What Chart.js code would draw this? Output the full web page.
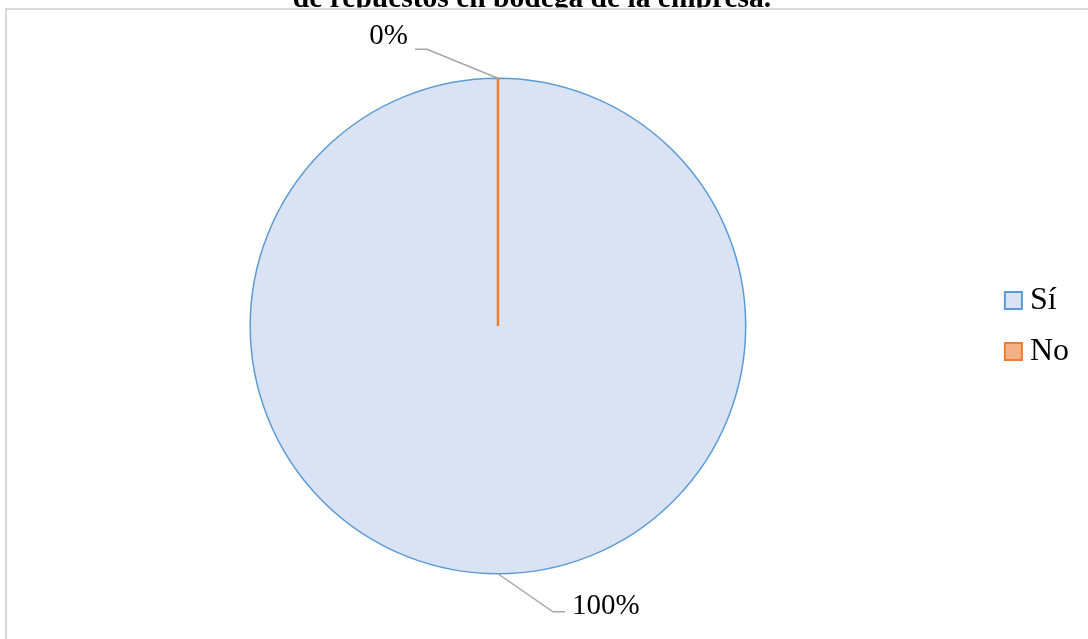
<!DOCTYPE html>
<html>
<head>
<meta charset="utf-8">
<script src="https://cdn.jsdelivr.net/npm/chart.js@4.4.0/dist/chart.umd.min.js"></script>
<style>
    html, body { margin: 0; padding: 0; background: #fff; overflow: hidden; }
    #wrap { position: relative; width: 1088px; height: 639px; }
</style>
</head>
<body>
<div id="wrap"><canvas id="chart-pie"></canvas></div>
<script>
var labels = ['Sí', 'No'];
var values = [100, 0];
var fills = ['#dae3f3', '#f4b183'];
var borders = ['#5b9bd5', '#ed7d31'];
var titleText = 'de repuestos en bodega de la empresa.';

var serif = '"Liberation Serif", "Times New Roman", serif';

// leader line for each percentage label: elbow offset from the slice edge, text side, baseline shift
var leaderStyle = [
    { dx: 55, dy: 38, side: 1, base: 2 },
    { dx: -71, dy: -29, side: -1, base: -5 }
];

// white page, grey frame and the title sitting above it (cut at the frame)
var framePlugin = {
    id: 'frame',
    beforeDraw: function (chart) {
        var ctx = chart.ctx;
        ctx.save();
        ctx.fillStyle = '#fff';
        ctx.fillRect(0, 0, chart.width, chart.height);
        ctx.strokeStyle = '#d9d9d9';
        ctx.lineWidth = 2;
        ctx.beginPath();
        ctx.moveTo(6, chart.height);
        ctx.lineTo(6, 9);
        ctx.lineTo(chart.width, 9);
        ctx.stroke();
        ctx.beginPath();
        ctx.rect(0, 0, chart.width, 7.5);
        ctx.clip();
        ctx.fillStyle = '#000';
        ctx.font = 'bold 29.5px ' + serif;
        ctx.textAlign = 'center';
        ctx.textBaseline = 'alphabetic';
        ctx.fillText(titleText, 532, 6.5);
        ctx.restore();
    }
};

// a 0 slice has no arc, so draw its border as the radius line
var zeroSlicePlugin = {
    id: 'zeroSlice',
    afterDatasetsDraw: function (chart) {
        var ctx = chart.ctx;
        chart.getDatasetMeta(0).data.forEach(function (arc, i) {
            if (values[i] !== 0) return;
            ctx.save();
            ctx.strokeStyle = borders[i];
            ctx.lineWidth = 2.5;
            ctx.beginPath();
            ctx.moveTo(arc.x, arc.y);
            ctx.lineTo(arc.x + Math.cos(arc.startAngle) * arc.outerRadius,
                       arc.y + Math.sin(arc.startAngle) * arc.outerRadius);
            ctx.stroke();
            ctx.restore();
        });
    }
};

var pctPlugin = {
    id: 'pctLabels',
    afterDatasetsDraw: function (chart) {
        var ctx = chart.ctx;
        var total = values.reduce(function (a, b) { return a + b; }, 0);
        chart.getDatasetMeta(0).data.forEach(function (arc, i) {
            var st = leaderStyle[i];
            var mid = arc.startAngle + arc.circumference / 2;
            var ax = arc.x + Math.cos(mid) * arc.outerRadius;
            var ay = arc.y + Math.sin(mid) * arc.outerRadius;
            var ex = ax + st.dx, ey = ay + st.dy;
            var tx = ex + st.side * 12;
            ctx.save();
            ctx.strokeStyle = '#a6a6a6';
            ctx.lineWidth = 1.5;
            ctx.beginPath();
            ctx.moveTo(ax, ay);
            ctx.lineTo(ex, ey);
            ctx.lineTo(tx, ey);
            ctx.stroke();
            ctx.fillStyle = '#000';
            ctx.font = '29px ' + serif;
            ctx.textAlign = st.side > 0 ? 'left' : 'right';
            ctx.textBaseline = 'alphabetic';
            ctx.fillText(Math.round(values[i] / total * 100) + '%', tx + st.side * 7, ey + st.base);
            ctx.restore();
        });
    }
};

function drawChart() {
    var ctx = document.getElementById('chart-pie').getContext('2d');
    new Chart(ctx, {
        type: 'pie',
        data: {
            labels: labels,
            datasets: [{
                data: values,
                backgroundColor: fills,
                borderColor: borders,
                borderWidth: [1.5, 2.5]
            }]
        },
        options: {
            responsive: true,
            maintainAspectRatio: false,
            animation: false,
            events: [],
            layout: {
                padding: { top: 77, bottom: 64, left: 2, right: 9 }
            },
            plugins: {
                tooltip: { enabled: false },
                legend: {
                    position: 'right',
                    labels: {
                        color: '#000',
                        font: { family: serif, size: 32 },
                        // square marker is drawn as a point style so the text sits close to it
                        usePointStyle: true,
                        pointStyle: 'rect',
                        boxWidth: 1,
                        boxHeight: 17,
                        padding: 19,
                        generateLabels: function (chart) {
                            var items = Chart.overrides.pie.plugins.legend.labels.generateLabels(chart);
                            items.forEach(function (item) { item.lineWidth = 2; });
                            return items;
                        }
                    }
                }
            }
        },
        plugins: [framePlugin, zeroSlicePlugin, pctPlugin]
    });
}

// canvas text needs the serif face loaded first
Promise.all([
    document.fonts.load('32px "Liberation Serif"'),
    document.fonts.load('bold 29.5px "Liberation Serif"')
]).then(drawChart, drawChart);
</script>
</body>
</html>
